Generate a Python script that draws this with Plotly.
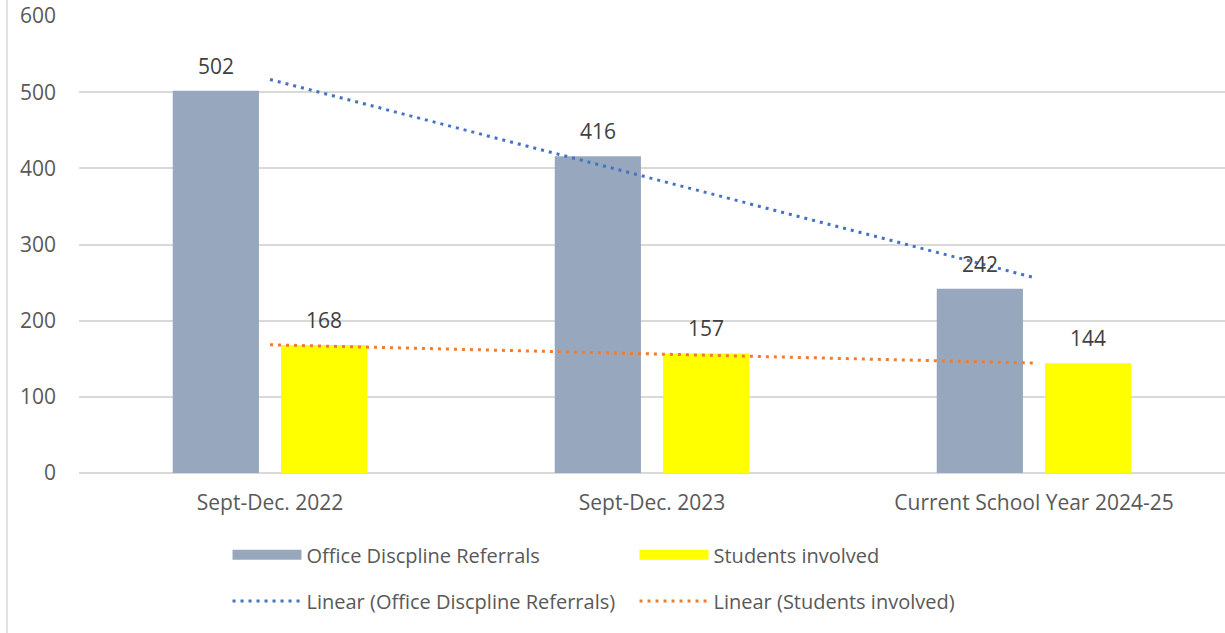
import numpy as np
import plotly.graph_objects as go

categories = ["Sept-Dec. 2022", "Sept-Dec. 2023", "Current School Year 2024-25"]
referrals = [502, 416, 242]
students = [168, 157, 144]
y_ticks = [0, 100, 200, 300, 400, 500, 600]

BAR_REF = "#97A8BE"
BAR_STU = "#FFFF00"

def linear_trend(vals):
    xs = np.arange(1, len(vals) + 1)
    m, b = np.polyfit(xs, vals, 1)
    return list(m * xs + b)

fig = go.Figure()
fig.add_trace(go.Bar(
    x=categories, y=referrals, name="Office Discpline Referrals",
    marker=dict(color=BAR_REF, line=dict(width=0)), showlegend=False,
))
fig.add_trace(go.Bar(
    x=categories, y=students, name="Students involved",
    marker=dict(color=BAR_STU, line=dict(width=0)), showlegend=False,
))
# legend keys shaped like wide bars
fig.add_trace(go.Scatter(
    x=[None], y=[None], mode="lines", name="Office Discpline Referrals",
    line=dict(color=BAR_REF, width=14), legend="legend", hoverinfo="skip",
))
fig.add_trace(go.Scatter(
    x=[None], y=[None], mode="lines", name="Students involved",
    line=dict(color=BAR_STU, width=14), legend="legend", hoverinfo="skip",
))
fig.add_trace(go.Scatter(
    x=categories, y=linear_trend(referrals), mode="lines",
    name="Linear (Office Discpline Referrals)",
    line=dict(color="#4472C4", width=3, dash="3px,5px"), legend="legend2",
))
fig.add_trace(go.Scatter(
    x=categories, y=linear_trend(students), mode="lines",
    name="Linear (Students involved)",
    line=dict(color="#ED7D31", width=3, dash="3px,5px"), legend="legend2",
))

annotations = []
for series, shift in ((referrals, -54), (students, 54)):
    for cat, val in zip(categories, series):
        annotations.append(dict(
            x=cat, y=val, xref="x", yref="y", text=str(val), showarrow=False,
            xshift=shift, yshift=25, yanchor="middle",
            font=dict(size=21, color="#404040", family="Open Sans"),
        ))

legend_font = dict(size=20, color="#595959", family="Open Sans")
leg_common = dict(orientation="h", xanchor="left", yanchor="middle",
                  itemwidth=69, entrywidth=323, entrywidthmode="pixels",
                  font=legend_font, bgcolor="rgba(0,0,0,0)", traceorder="normal")
fig.update_layout(
    width=1225, height=633,
    margin=dict(l=79, r=0, t=16, b=160),
    paper_bgcolor="white", plot_bgcolor="white",
    barmode="group", bargap=0.433, bargroupgap=0.204,
    font=dict(family="Open Sans", color="#595959"),
    legend=dict(x=0.1296, y=-0.179, **leg_common),
    legend2=dict(x=0.1296, y=-0.280, **leg_common),
    xaxis=dict(showgrid=False, showline=False, zeroline=False,
               tickfont=dict(size=21, color="#595959"), ticks="",
               ticklabelstandoff=15),
    yaxis=dict(range=[0, 600], tickvals=y_ticks, showgrid=True, gridcolor="#D9D9D9",
               gridwidth=1.5, zeroline=True, zerolinecolor="#D9D9D9", zerolinewidth=1.5,
               showline=False, tickfont=dict(size=21, color="#595959"),
               ticklabelstandoff=22),
    showlegend=True,
    annotations=annotations,
    shapes=[dict(type="line", xref="paper", yref="paper",
                 x0=(7 - 79) / 1146, x1=(7 - 79) / 1146, y0=-160 / 457, y1=16 / 457 + 1,
                 line=dict(color="#D9D9D9", width=1.5))],
)

fig.write_html("out.html")
